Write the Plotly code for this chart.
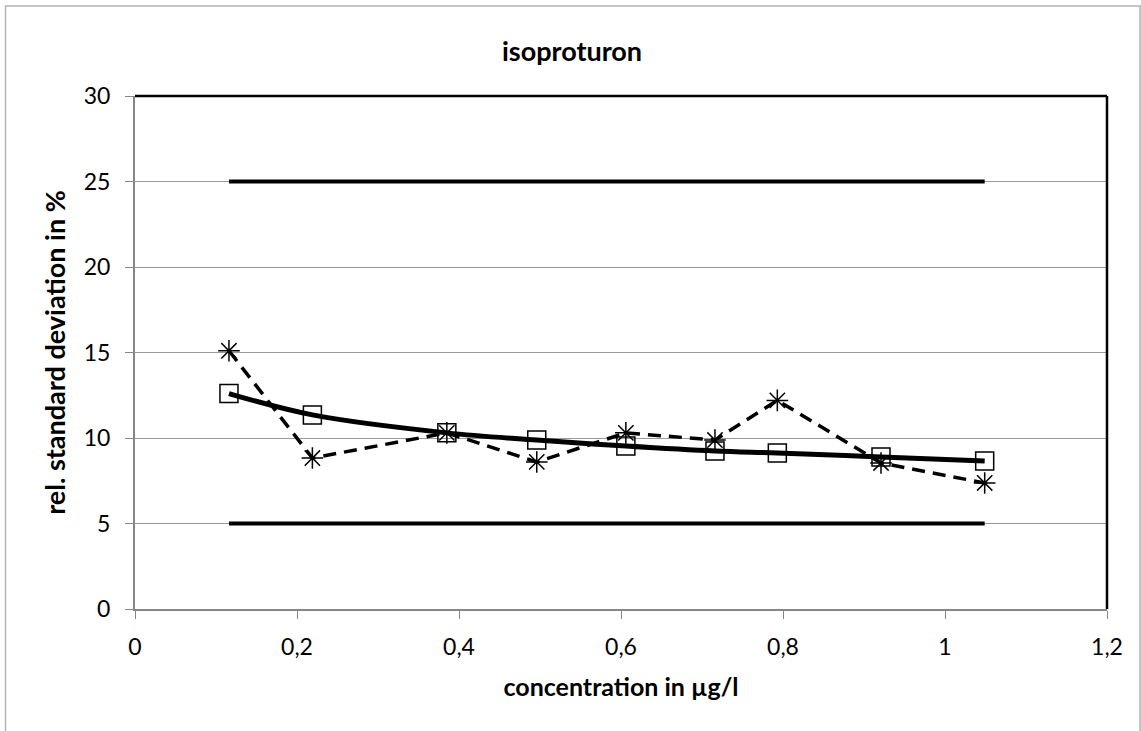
import plotly.graph_objects as go

# data
conc = [0.116, 0.219, 0.385, 0.496, 0.606, 0.716, 0.793, 0.921, 1.049]
rsd_fit = [12.6, 11.35, 10.3, 9.88, 9.53, 9.24, 9.12, 8.89, 8.65]
rsd_obs = [15.1, 8.83, 10.3, 8.6, 10.3, 9.88, 12.2, 8.54, 7.37]
limit_x = [0.116, 1.049]
upper_limit = [25, 25]
lower_limit = [5, 5]

x_ticks = [0, 0.2, 0.4, 0.6, 0.8, 1.0, 1.2]
x_tick_text = ["0", "0,2", "0,4", "0,6", "0,8", "1", "1,2"]
y_ticks = [0, 5, 10, 15, 20, 25, 30]

FONT = "Lato"

fig = go.Figure()
fig.add_trace(go.Scatter(x=limit_x, y=upper_limit, mode="lines",
                         line=dict(color="black", width=4), showlegend=False))
fig.add_trace(go.Scatter(x=limit_x, y=lower_limit, mode="lines",
                         line=dict(color="black", width=4), showlegend=False))
fig.add_trace(go.Scatter(x=conc, y=rsd_obs, mode="lines+markers",
                         line=dict(color="black", width=3.5, dash="13px,8px"),
                         marker=dict(symbol="asterisk-open", size=18,
                                     line=dict(color="black", width=1.5)),
                         showlegend=False))
fig.add_trace(go.Scatter(x=conc, y=rsd_fit, mode="lines+markers",
                         line=dict(color="black", width=5, shape="spline"),
                         marker=dict(symbol="square-open", size=18, color="black",
                                     line=dict(color="black", width=1.5)),
                         showlegend=False))

# frame top/right in black
fig.add_shape(type="line", xref="paper", yref="paper", x0=0, x1=1, y0=1, y1=1,
              line=dict(color="black", width=2.5))
fig.add_shape(type="line", xref="paper", yref="paper", x0=1, x1=1, y0=0, y1=1,
              line=dict(color="black", width=2.5))
# outer chart border
fig.add_shape(type="rect", xref="paper", yref="paper",
              x0=(5.5 - 135) / 972, x1=(1140 - 135) / 972,
              y0=(609 - 740) / 513, y1=(609 - 6) / 513,
              line=dict(color="#b3b3b3", width=1.5), layer="below")

fig.update_layout(
    width=1141, height=731,
    margin=dict(l=135, r=34, t=96, b=122),
    paper_bgcolor="white", plot_bgcolor="white",
    font=dict(family=FONT, color="black", size=23),
    title=dict(text="<b>isoproturon</b>", x=572 / 1141, xref="container", xanchor="center",
               y=1 - 52 / 731, yanchor="middle", font=dict(size=27)),
    xaxis=dict(range=[0, 1.2], tickvals=x_ticks, ticktext=x_tick_text,
               showgrid=False, zeroline=False, showline=True, linecolor="#868686",
               linewidth=2, ticks="outside", ticklen=8, tickcolor="#868686",
               tickfont=dict(size=23), ticklabelstandoff=8,
               title=dict(text="<b>concentration in µg/l</b>", font=dict(size=25), standoff=20)),
    yaxis=dict(range=[0, 30], tickvals=y_ticks, showgrid=True, gridcolor="#9a9a9a",
               gridwidth=1, zeroline=False, showline=True, linecolor="#868686",
               linewidth=2, ticks="outside", ticklen=8, tickcolor="#868686",
               tickfont=dict(size=23), ticklabelstandoff=10,
               title=dict(text="<b>rel. standard deviation in %</b>", font=dict(size=27), standoff=10)),
)

fig.write_html("out.html", config={"displayModeBar": False},
               post_script="document.body.style.margin='0px';")
